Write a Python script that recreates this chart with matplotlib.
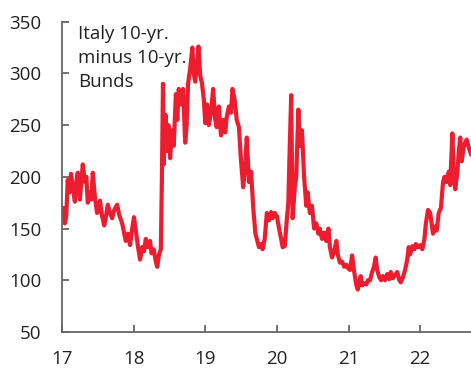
import matplotlib
matplotlib.use("Agg")
import matplotlib.pyplot as plt

# Spread of Italian 10-yr yields over 10-yr Bunds, basis points (time in decimal years)
t = [2017.00, 2017.02, 2017.04, 2017.06, 2017.08, 2017.105, 2017.126, 2017.154, 2017.18, 2017.20,
     2017.22, 2017.25, 2017.27, 2017.29, 2017.32, 2017.34, 2017.36, 2017.39, 2017.41, 2017.43,
     2017.46, 2017.49, 2017.51, 2017.53, 2017.56, 2017.59, 2017.61, 2017.64, 2017.67, 2017.70,
     2017.73, 2017.77, 2017.80, 2017.84, 2017.87, 2017.89, 2017.92, 2017.95, 2017.98, 2018.005,
     2018.03, 2018.06, 2018.09, 2018.12, 2018.145, 2018.17, 2018.20, 2018.23, 2018.25, 2018.28,
     2018.31, 2018.33, 2018.355, 2018.38, 2018.395, 2018.41, 2018.42, 2018.445, 2018.465, 2018.485,
     2018.51, 2018.535, 2018.56, 2018.59, 2018.61, 2018.63, 2018.66, 2018.69, 2018.72, 2018.74,
     2018.76, 2018.79, 2018.82, 2018.84, 2018.86, 2018.885, 2018.905, 2018.93, 2018.955, 2018.98,
     2019.00, 2019.025, 2019.05, 2019.08, 2019.11, 2019.14, 2019.16, 2019.19, 2019.22, 2019.25,
     2019.28, 2019.30, 2019.33, 2019.36, 2019.38, 2019.41, 2019.44, 2019.47, 2019.50, 2019.53,
     2019.55, 2019.58, 2019.61, 2019.64, 2019.67, 2019.70, 2019.72, 2019.75, 2019.78, 2019.80,
     2019.83, 2019.86, 2019.89, 2019.92, 2019.94, 2019.97, 2020.00, 2020.03, 2020.06, 2020.08,
     2020.11, 2020.14, 2020.16, 2020.18, 2020.20, 2020.22, 2020.25, 2020.27, 2020.30, 2020.32,
     2020.35, 2020.38, 2020.41, 2020.43, 2020.46, 2020.49, 2020.52, 2020.55, 2020.58, 2020.60,
     2020.63, 2020.66, 2020.69, 2020.72, 2020.74, 2020.77, 2020.80, 2020.83, 2020.85, 2020.88,
     2020.91, 2020.94, 2020.97, 2020.99, 2021.02, 2021.05, 2021.08, 2021.11, 2021.13, 2021.15,
     2021.17, 2021.19, 2021.22, 2021.25, 2021.27, 2021.30, 2021.33, 2021.355, 2021.38, 2021.40,
     2021.43, 2021.455, 2021.48, 2021.51, 2021.54, 2021.57, 2021.59, 2021.62, 2021.65, 2021.68,
     2021.71, 2021.73, 2021.76, 2021.79, 2021.82, 2021.84, 2021.86, 2021.89, 2021.92, 2021.94,
     2021.97, 2022.00, 2022.03, 2022.06, 2022.08, 2022.11, 2022.14, 2022.16, 2022.18, 2022.21,
     2022.23, 2022.26, 2022.29, 2022.32, 2022.34, 2022.37, 2022.40, 2022.42, 2022.45, 2022.47,
     2022.49, 2022.52, 2022.54, 2022.56, 2022.58, 2022.60, 2022.62, 2022.65, 2022.68, 2022.71]

spread = [165, 170, 155, 162, 197, 185, 203, 188, 176, 195,
          204, 178, 195, 212, 195, 200, 175, 185, 178, 204,
          180, 165, 170, 177, 162, 153, 160, 173, 165, 160,
          168, 173, 163, 155, 145, 138, 145, 134, 150, 161,
          148, 133, 120, 132, 128, 140, 132, 138, 126, 130,
          118, 113, 125, 130, 200, 290, 212, 260, 225, 250,
          218, 245, 230, 280, 255, 285, 270, 285, 233, 250,
          290, 305, 325, 300, 292, 310, 326, 298, 290, 275,
          252, 270, 250, 262, 285, 255, 248, 268, 240, 255,
          243, 258, 268, 262, 285, 275, 255, 248, 215, 190,
          205, 238, 195, 205, 170, 145, 140, 132, 135, 130,
          140, 165, 158, 166, 160, 165, 162, 150, 140, 132,
          133, 160, 175, 230, 279, 160, 190, 200, 265, 230,
          245, 200, 172, 185, 165, 172, 150, 155, 145, 150,
          140, 146, 138, 150, 132, 122, 128, 138, 125, 117,
          118, 113, 115, 112, 110, 124, 108, 95, 91, 98,
          104, 95, 97, 96, 100, 100, 108, 113, 122, 110,
          103, 100, 104, 100, 106, 101, 108, 102, 105, 108,
          100, 98, 103, 110, 120, 132, 125, 133, 130, 135,
          132, 134, 130, 140, 155, 168, 165, 155, 145, 152,
          148, 165, 170, 195, 200, 195, 205, 192, 242, 200,
          188, 205, 225, 238, 215, 225, 232, 236, 228, 222]

year_ticks = [2017, 2018, 2019, 2020, 2021, 2022]
year_labels = ["17", "18", "19", "20", "21", "22"]
y_ticks = [50, 100, 150, 200, 250, 300, 350]

plt.rcParams['font.family'] = ['Open Sans', 'DejaVu Sans']

fig = plt.figure(figsize=(4.71, 3.69), dpi=100)
ax = fig.add_axes([0.1316, 0.1003, 0.8684, 0.8409])

ax.plot(t, spread, color='#ED1C2E', linewidth=3.0, solid_joinstyle='round')

ax.set_xlim(2017, 2022.71)
ax.set_ylim(50, 350)
ax.set_xticks(year_ticks)
ax.set_xticklabels(year_labels)
ax.set_yticks(y_ticks)

for side in ['top', 'right']:
    ax.spines[side].set_visible(False)
for side in ['left', 'bottom']:
    ax.spines[side].set_color('#666666')
    ax.spines[side].set_linewidth(1.3)

ax.tick_params(axis='both', direction='in', length=5, width=1.3, color='#666666',
               labelsize=13.5, labelcolor='#222222')
ax.tick_params(axis='x', pad=13)
ax.tick_params(axis='y', pad=15)

ax.text(0.04, 0.99, "Italy 10-yr.\nminus 10-yr.\nBunds", transform=ax.transAxes,
        ha='left', va='top', fontsize=13.5, color='#222222', linespacing=1.42)

fig.savefig("out.png", dpi=100)
